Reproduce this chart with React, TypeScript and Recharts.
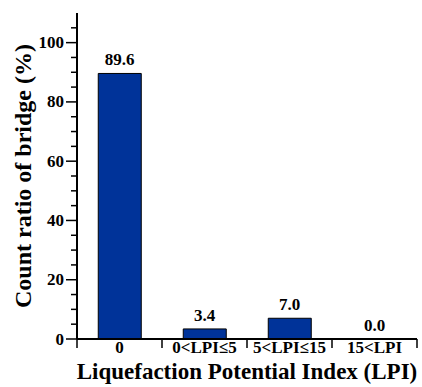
import React from "react";
import { ComposedChart, Bar, Line, XAxis, YAxis, LabelList, Label } from "recharts";

const categories = ["0", "0<LPI\u22645", "5<LPI\u226415", "15<LPI"];
const ratios = [89.6, 3.4, 7.0, 0.0];
const yTicks = [0, 5, 10, 15, 20, 25, 30, 35, 40, 45, 50, 55, 60, 65, 70, 75, 80, 85, 90, 95, 100, 105];

const data = categories.map((name, i) => ({ name, ratio: ratios[i] }));

const FONT = "Liberation Serif";
const txt = { fontFamily: FONT, fontWeight: 700, fill: "#000" } as const;

const YTick = (props: any) => {
    const { x, y, payload } = props;
    const major = payload.value % 20 === 0;
    return (
        <g>
            <line x1={x - (major ? 11 : 6)} x2={x} y1={y} y2={y} stroke="#000" strokeWidth={1.5} />
            {major && (
                <text x={x - 13} y={y} textAnchor="end" dominantBaseline="central"
                    style={{ ...txt, fontSize: 17 }}>
                    {payload.value}
                </text>
            )}
        </g>
    );
};

const XTick = (props: any) => {
    const { x, y, payload, index, visibleTicksCount } = props;
    const half = payload.offset || 42.5;
    return (
        <g>
            <line x1={x - half} x2={x - half} y1={y} y2={y + 9} stroke="#000" strokeWidth={1.5} />
            {index === visibleTicksCount - 1 && (
                <line x1={x + half} x2={x + half} y1={y} y2={y + 9} stroke="#000" strokeWidth={1.5} />
            )}
            <text x={x} y={y + 14} textAnchor="middle" style={{ ...txt, fontSize: 17 }}>
                {payload.value}
            </text>
        </g>
    );
};

export default function App() {
    return (
        <div style={{ position: "absolute", left: 0, top: 0, width: 422, height: 387, background: "#fff" }}>
            <ComposedChart width={422} height={387} data={data} barCategoryGap="25%"
                margin={{ top: 13, right: 5, left: 7, bottom: 28 }}>
                <XAxis dataKey="name" height={20} tickLine={false} tickSize={0} tickMargin={0}
                    tick={<XTick />} interval={0} axisLine={{ stroke: "#000", strokeWidth: 2 }}>
                    <Label content={() => (
                        <text x={247} y={379} textAnchor="middle" style={{ ...txt, fontSize: 23 }}>
                            Liquefaction Potential Index (LPI)
                        </text>
                    )} />
                </XAxis>
                <XAxis xAxisId="top" orientation="top" dataKey="name" height={0} tick={false}
                    tickLine={false} axisLine={{ stroke: "#000", strokeWidth: 1.3 }} />
                <YAxis width={70} domain={[0, 110]} ticks={yTicks} interval={0} tickLine={false}
                    tickSize={0} tickMargin={0} tick={<YTick />}
                    axisLine={{ stroke: "#000", strokeWidth: 2 }}>
                    <Label content={() => (
                        <text x={23} y={176} transform="rotate(-90 23 176)" textAnchor="middle"
                            dominantBaseline="central" style={{ ...txt, fontSize: 24 }}>
                            Count ratio of bridge (%)
                        </text>
                    )} />
                </YAxis>
                <YAxis yAxisId="right" orientation="right" width={0} domain={[0, 110]} tick={false}
                    tickLine={false} axisLine={{ stroke: "#000", strokeWidth: 1.3 }} />
                <Bar dataKey="ratio" fill="#003399" stroke="#000" strokeWidth={1} isAnimationActive={false} />
                <Line dataKey="ratio" stroke="none" dot={false} activeDot={false} isAnimationActive={false}>
                    <LabelList dataKey="ratio" position="top" offset={8}
                        formatter={(v: any) => Number(v).toFixed(1)}
                        style={{ ...txt, fontSize: 17 }} />
                </Line>
            </ComposedChart>
        </div>
    );
}
